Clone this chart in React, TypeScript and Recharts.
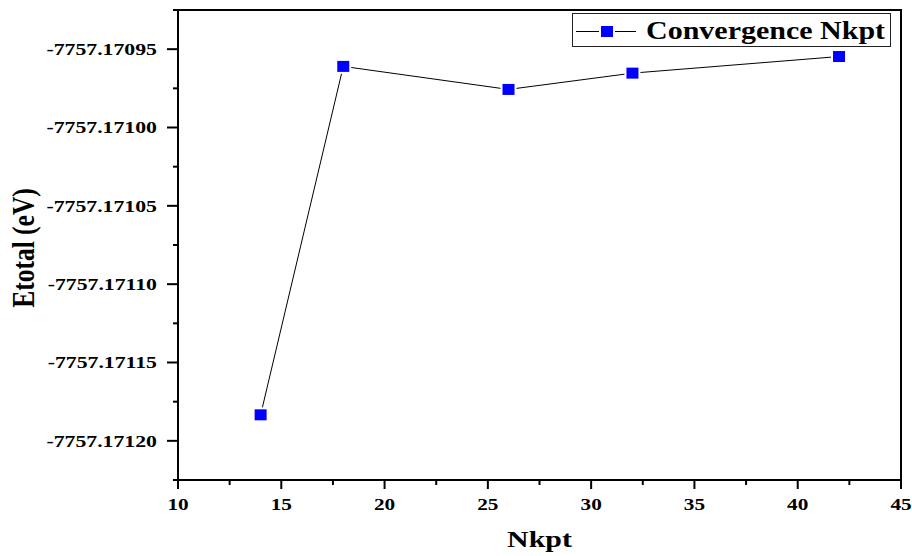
import React from "react";
import { LineChart, Line, XAxis, YAxis, Legend, ReferenceArea } from "recharts";

const nkpt = [14, 18, 26, 32, 42];
const etotal = [-7757.1711834, -7757.170961, -7757.1709757, -7757.1709653, -7757.1709547];

const xMajorTicks = [10, 15, 20, 25, 30, 35, 40, 45];
const xMinorTicks = [12.5, 17.5, 22.5, 27.5, 32.5, 37.5, 42.5];
const yMajorTicks = [-7757.17095, -7757.171, -7757.17105, -7757.1711, -7757.17115, -7757.1712];
const yMinorTicks = [-7757.170925, -7757.170975, -7757.171025, -7757.171075, -7757.171125, -7757.171175, -7757.171225];
const yDomain = [-7757.171225, -7757.170925];

const seriesName = "Convergence Nkpt";

const data = nkpt.map((n, i) => ({ nkpt: n, etotal: etotal[i] }));

const FONT = "'Liberation Serif', 'Times New Roman', serif";

const XTick = (props: any) => {
  const { x, y, payload } = props;
  const major = xMajorTicks.includes(payload.value);
  return (
    <g>
      <line x1={x} x2={x} y1={y} y2={y + (major ? 9 : 5)} stroke="#000" strokeWidth={2} />
      {major && (
        <text
          transform={`translate(${x},${y + 30}) scale(1.25,1)`}
          textAnchor="middle"
          fontFamily={FONT}
          fontWeight="bold"
          fontSize={17}
          fill="#000"
        >
          {payload.value}
        </text>
      )}
    </g>
  );
};

const YTick = (props: any) => {
  const { x, y, payload } = props;
  const major = yMajorTicks.some((m) => Math.abs(m - payload.value) < 1e-9);
  return (
    <g>
      <line x1={x} x2={x - (major ? 11 : 5)} y1={y} y2={y} stroke="#000" strokeWidth={2} />
      {major && (
        <text
          transform={`translate(${x - 21},${y + 5.7}) scale(1.28,1)`}
          textAnchor="end"
          fontFamily={FONT}
          fontWeight="bold"
          fontSize={17}
          fill="#000"
        >
          {payload.value.toFixed(5)}
        </text>
      )}
    </g>
  );
};

const Square = (props: any) => {
  const { cx, cy, index } = props;
  return (
    <rect key={`sq-${index}`} x={cx - 7} y={cy - 6.5} width={14} height={13} fill="#0000ff" stroke="#fff" strokeWidth={2} />
  );
};

const LegendBox = () => (
  <div style={{ width: 319, height: 34, border: "1px solid #222", background: "#fff", boxSizing: "border-box" }}>
    <svg width={317} height={32}>
      <line x1={3} x2={63} y1={17.5} y2={17.5} stroke="#000" strokeWidth={1} />
      <rect x={27} y={11} width={14} height={13} fill="#0000ff" stroke="#fff" strokeWidth={2} />
      <text
        transform="translate(73,25) scale(1.2,1)"
        fontFamily={FONT}
        fontWeight="bold"
        fontSize={25}
        fill="#000"
      >
        {seriesName}
      </text>
    </svg>
  </div>
);

const XTitle = (props: any) => {
  const { x, y, width } = props.viewBox;
  return (
    <text
      transform={`translate(${x + width / 2},${y + 67}) scale(1.3,1)`}
      textAnchor="middle"
      fontFamily={FONT}
      fontWeight="bold"
      fontSize={23}
      fill="#000"
    >
      Nkpt
    </text>
  );
};

const YTitle = (props: any) => {
  const { y, height } = props.viewBox;
  return (
    <text
      transform={`translate(34,${y + height / 2 + 3}) rotate(-90) scale(1,1.25)`}
      textAnchor="middle"
      fontFamily={FONT}
      fontWeight="bold"
      fontSize={25.5}
      fill="#000"
    >
      Etotal (eV)
    </text>
  );
};

export default function App() {
  return (
    <div style={{ position: "absolute", left: 0, top: 0, width: 912, height: 556, background: "#fff" }}>
      <LineChart width={912} height={556} data={data} margin={{ top: 10, right: 11, left: 0, bottom: 0 }}>
        <XAxis
          dataKey="nkpt"
          type="number"
          domain={[10, 45]}
          ticks={[...xMajorTicks, ...xMinorTicks].sort((a, b) => a - b)}
          interval={0}
          tickSize={0}
          tickMargin={0}
          tickLine={false}
          axisLine={{ stroke: "#000", strokeWidth: 2 }}
          height={76}
          tick={XTick}
          label={XTitle}
        />
        <YAxis
          dataKey="etotal"
          type="number"
          domain={yDomain}
          allowDataOverflow
          ticks={[...yMajorTicks, ...yMinorTicks].sort((a, b) => a - b)}
          interval={0}
          tickSize={0}
          tickMargin={0}
          tickLine={false}
          axisLine={{ stroke: "#000", strokeWidth: 2 }}
          width={178}
          tick={YTick}
          label={YTitle}
        />
        <ReferenceArea
          x1={10}
          x2={45}
          y1={yDomain[0]}
          y2={yDomain[1]}
          fill="none"
          fillOpacity={0}
          stroke="#000"
          strokeWidth={2}
        />
        <Legend
          layout="vertical"
          align="center"
          verticalAlign="middle"
          content={LegendBox}
          wrapperStyle={{ position: "absolute", left: 572, top: 13, width: 319, height: 34 }}
        />
        <Line
          dataKey="etotal"
          name={seriesName}
          stroke="#000"
          strokeWidth={1}
          dot={Square}
          activeDot={false}
          isAnimationActive={false}
        />
      </LineChart>
    </div>
  );
}
